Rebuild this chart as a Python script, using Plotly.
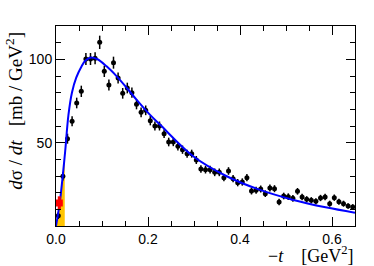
import plotly.graph_objects as go

# ---- data points (black) ----
t_data = [0.005, 0.015, 0.025, 0.035, 0.045, 0.055, 0.065, 0.075, 0.085, 0.095,
          0.105, 0.115, 0.125, 0.135, 0.145, 0.155, 0.165, 0.175, 0.185, 0.195,
          0.205, 0.215, 0.225, 0.235, 0.245, 0.255, 0.265, 0.275, 0.285, 0.295,
          0.305, 0.315, 0.325, 0.335, 0.345, 0.355, 0.365, 0.375, 0.385, 0.395,
          0.405, 0.415, 0.425, 0.435, 0.445, 0.455, 0.465, 0.475, 0.485, 0.495,
          0.505, 0.515, 0.525, 0.535, 0.545, 0.555, 0.565, 0.575, 0.585, 0.595,
          0.605, 0.615, 0.625, 0.635, 0.645]
y_data = [6.2, 29.8, 52.4, 62.8, 73.8, 80.8, 100.2, 100.2, 100.6, 110.2,
          92.8, 84.6, 98.0, 88.8, 79.6, 82.8, 80.0, 73.0, 68.2, 69.4,
          63.2, 60.0, 60.0, 55.4, 50.4, 50.4, 47.8, 45.8, 43.4, 43.4,
          39.6, 34.2, 33.8, 33.8, 32.2, 32.2, 29.0, 33.0, 28.4, 26.0,
          26.4, 29.0, 21.0, 21.4, 22.2, 19.4, 22.8, 22.4, 14.4, 18.0,
          17.6, 16.6, 20.8, 17.4, 16.0, 15.4, 14.8, 16.8, 17.4, 13.4,
          17.0, 14.6, 13.4, 12.0, 11.4]
y_err = [2.0, 2.5, 3.0, 3.0, 3.2, 3.4, 3.6, 3.6, 3.6, 4.0,
         3.4, 3.3, 3.6, 3.3, 3.2, 3.2, 3.1, 3.0, 2.9, 2.9,
         2.8, 2.7, 2.7, 2.6, 2.6, 2.5, 2.5, 2.5, 2.4, 2.4,
         2.4, 2.3, 2.3, 2.3, 2.3, 2.3, 2.2, 2.3, 2.2, 2.2,
         2.2, 2.2, 2.1, 2.1, 2.1, 2.0, 2.1, 2.1, 2.0, 2.0,
         2.0, 2.0, 2.0, 2.0, 1.9, 1.9, 1.9, 1.9, 1.9, 1.8,
         1.9, 1.8, 1.8, 1.7, 1.7]

# ---- red point ----
t_red = [0.0071]
y_red = [13.8]
t_red_err = [0.0065]
y_red_err = [4.0]

# ---- fit curve ----
curve_t = [0.0, 0.004, 0.008, 0.015, 0.020, 0.027, 0.0346, 0.044, 0.056, 0.063,
           0.074, 0.089, 0.11, 0.132, 0.154, 0.175, 0.204, 0.2255, 0.2975,
           0.37, 0.442, 0.514, 0.586, 0.65]
curve_y = [0.0, 6.5, 13.5, 31.0, 45.0, 66.5, 80.0, 89.0, 96.0, 99.0,
           101.0, 100.2, 95.8, 89.8, 82.8, 75.8, 66.8, 61.0, 42.0,
           30.0, 21.8, 15.8, 11.2, 8.0]

# ---- yellow band (area under curve) ----
band_t = [0.0, 0.004, 0.008, 0.015, 0.019]
band_y = [0.0, 6.5, 13.5, 31.0, 42.0]

x_tickvals = [0.0, 0.2, 0.4, 0.6]
x_ticktext = ["0.0", "0.2", "0.4", "0.6"]
x_minor = [0.05, 0.1, 0.15, 0.25, 0.3, 0.35, 0.45, 0.5, 0.55]
y_tickvals = [0, 50, 100]
y_ticktext = ["", "50", "100"]
y_minor = [10, 20, 30, 40, 60, 70, 80, 90, 110]

fig = go.Figure()

fig.add_trace(go.Scatter(
    x=band_t, y=band_y, mode="lines", line=dict(width=0, color="#FFC000"),
    fill="tozeroy", fillcolor="#FFC400", showlegend=False, hoverinfo="skip"))

fig.add_trace(go.Scatter(
    x=t_data, y=y_data, mode="markers",
    marker=dict(color="black", size=5),
    error_y=dict(type="data", array=y_err, color="black", thickness=1.5, width=0),
    showlegend=False))

fig.add_trace(go.Scatter(
    x=curve_t, y=curve_y, mode="lines", line=dict(color="#0000FF", width=2, shape="spline"),
    showlegend=False))

fig.add_trace(go.Scatter(
    x=t_red, y=y_red, mode="markers",
    marker=dict(color="#FF0000", size=7, symbol="square"),
    error_y=dict(type="data", array=y_red_err, color="#FF0000", thickness=3, width=0),
    error_x=dict(type="data", array=t_red_err, color="#FF0000", thickness=3, width=0),
    showlegend=False))

axis_common = dict(
    showline=True, linecolor="black", linewidth=1, mirror="allticks",
    ticks="inside", ticklen=9, tickcolor="black", tickwidth=1,
    showgrid=False, zeroline=False,
    tickfont=dict(family="Liberation Sans, Arial", size=14, color="black"),
)

fig.update_layout(
    width=374, height=266,
    margin=dict(l=55.7, r=18.7, t=26, b=40.3),
    paper_bgcolor="white", plot_bgcolor="white",
    xaxis=dict(range=[0, 0.65], tickmode="array", tickvals=x_tickvals, ticktext=x_ticktext,
               minor=dict(tickmode="array", tickvals=x_minor, ticks="inside", ticklen=5,
                          tickcolor="black", tickwidth=1, showgrid=False),
               **axis_common),
    yaxis=dict(range=[0, 120], tickmode="array", tickvals=y_tickvals, ticktext=y_ticktext,
               minor=dict(tickmode="array", tickvals=y_minor, ticks="inside", ticklen=5,
                          tickcolor="black", tickwidth=1, showgrid=False),
               **axis_common),
    annotations=[
        dict(text="\u2212<i>t</i>\u00a0\u00a0\u00a0\u00a0[GeV<sup>2</sup>]",
             xref="paper", yref="paper", x=1.0, y=-0.142, xanchor="right", yanchor="middle",
             showarrow=False, font=dict(family="Liberation Serif, Times New Roman", size=18, color="black")),
        dict(text="<i>d</i>\u03c3\u00a0/\u00a0<i>dt</i>\u00a0\u00a0\u00a0[mb\u00a0/\u00a0GeV<sup>2</sup>]",
             xref="paper", yref="paper", x=-0.141, y=0.575, xanchor="center", yanchor="middle",
             textangle=-90, showarrow=False,
             font=dict(family="Liberation Serif, Times New Roman", size=19, color="black")),
    ],
)

fig.write_html("out.html", config={"displayModeBar": False},
               post_script="document.body.style.margin='0';document.body.style.padding='0';")
